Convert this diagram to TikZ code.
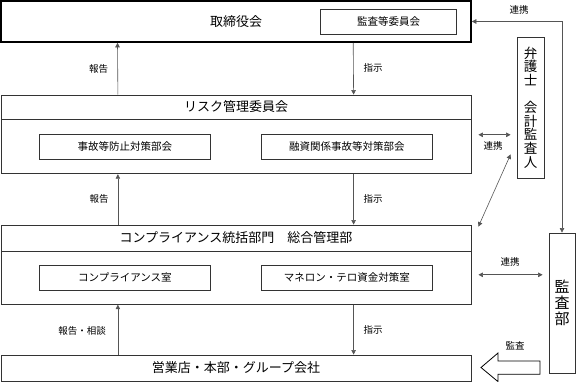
\documentclass[tikz,border=0pt]{standalone}
\usepackage{fontspec}
\setmainfont{Noto Sans CJK JP}
\usetikzlibrary{arrows.meta,calc}
\definecolor{frame}{HTML}{333333}
\definecolor{wire}{HTML}{555555}

\begin{document}
\begin{tikzpicture}[x=1pt,y=-1pt,
  box/.style={draw=frame,line width=0.8pt,inner sep=0pt,minimum width=470pt,font=\fontsize{13}{13}\selectfont},
  subbox/.style={draw=frame,line width=0.8pt,inner sep=0pt,minimum width=171.7pt,minimum height=25.5pt,font=\fontsize{10.5}{10.5}\selectfont},
  tallbox/.style={draw=frame,line width=0.8pt,inner sep=0pt,align=center},
  lbl/.style={font=\fontsize{9.5}{9.5}\selectfont},
  arr/.style={wire,line width=0.6pt,-{Triangle[width=4.5pt,length=4.5pt]}},
  both/.style={wire,line width=0.6pt,{Triangle[width=4.5pt,length=4.5pt]}-{Triangle[width=4.5pt,length=4.5pt]}}]
  \useasboundingbox (0,0) rectangle (576,382);

  % Board
  \node[box,draw=black,line width=1.6pt,minimum height=41pt] (board) at (236,21.5) {取締役会};
  \node[subbox,minimum width=136pt,minimum height=25pt] (auditcom) at (388.7,21.5) {監査等委員会};

  % Risk committee
  \node[box,minimum height=24pt] (riskhead) at (236,107) {リスク管理委員会};
  \node[box,minimum height=54pt,anchor=north] (riskbody) at (riskhead.south) {};
  \node[subbox] (accident) at (124.85,146.8) {事故等防止対策部会};
  \node[subbox] (loan) at (346.85,146.8) {融資関係事故等対策部会};

  % Compliance division
  \node[box,minimum height=26pt] (comphead) at (236,238) {コンプライアンス統括部門　総合管理部};
  \node[box,minimum height=52.5pt,anchor=north] (compbody) at (comphead.south) {};
  \node[subbox] (compoffice) at (124.85,277.8) {コンプライアンス室};
  \node[subbox] (amloffice) at (346.85,277.8) {マネロン・テロ資金対策室};

  % Branches
  \node[box,minimum height=26pt] (branches) at (236,368) {営業店・本部・グループ会社};

  % Right side
  \node[tallbox,minimum width=27pt,minimum height=141pt,font=\fontsize{13.5}{13.6}\selectfont] (lawyer) at (530.5,107.5) {弁\\護\\士\\[13.6pt]会\\計\\監\\査\\人};
  \node[tallbox,minimum width=26pt,minimum height=140pt,font=\fontsize{15}{16}\selectfont] (audit) at (562,303) {監\\査\\部};

  % Report / instruction arrows
  \draw[arr] ([xshift=117.3pt]riskhead.north west) -- ([xshift=117.3pt]board.south west);
  \draw[arr] ([xshift=353pt]board.south west) -- ([xshift=353pt]riskhead.north west);
  \draw[arr] ([xshift=117.3pt]comphead.north west) -- ([xshift=117.3pt]riskbody.south west);
  \draw[arr] ([xshift=353pt]riskbody.south west) -- ([xshift=353pt]comphead.north west);
  \draw[arr] ([xshift=117.3pt]branches.north west) -- ([xshift=117.3pt]compbody.south west);
  \draw[arr] ([xshift=353pt]compbody.south west) -- ([xshift=353pt]branches.north west);

  \node[lbl] (rep1) at (98.7,69) {報告};
  \node[lbl] (ins1) at (373,68) {指示};
  \node[lbl] (rep2) at (99,199) {報告};
  \node[lbl] (ins2) at (373,199) {指示};
  \node[lbl] (rep3) at (82.2,330.7) {報告・相談};
  \node[lbl] (ins3) at (373,330) {指示};

  % Cooperation arrows
  \draw[both] (audit.north) |- (board.east);
  \coordinate (riskline) at ([xshift=7pt,yshift=12pt]riskbody.east);
  \draw[both] (riskline) -- ($(riskline -| lawyer.west)+(-6pt,0)$);
  \draw[both] ([xshift=7pt,yshift=-2pt]comphead.north east) -- ([xshift=-6pt,yshift=24pt]lawyer.south west);
  \coordinate (compline) at ([xshift=7pt,yshift=3.25pt]compbody.east);
  \draw[both] (compline) -- ($(compline -| audit.west)+(-6pt,0)$);

  \node[lbl] (coop1) at (519,10) {連携};
  \node[lbl] (coop2) at (493,146) {連携};
  \node[lbl] (coop3) at (510,262) {連携};

  % Audit arrow
  \draw[black,line width=0.8pt] (481,367.5) -- (498,353) -- (498,361) -- (540,361)
    -- (540,374.3) -- (498,374.3) -- (498,381.6) -- cycle;
  \node[lbl] (audlbl) at (515,345.7) {監査};
\end{tikzpicture}
\end{document}
